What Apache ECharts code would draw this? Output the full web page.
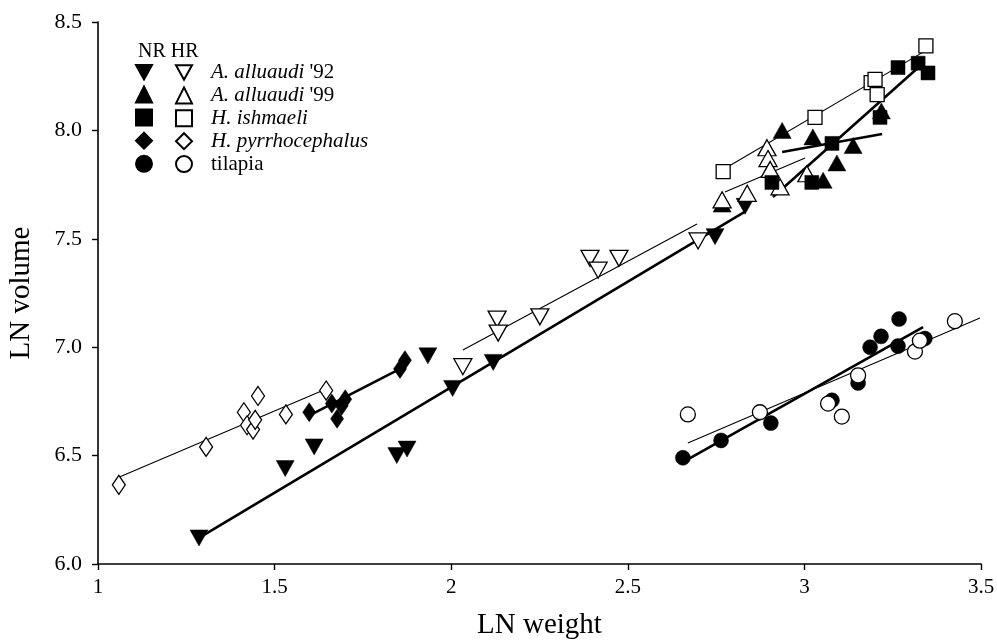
<!DOCTYPE html>
<html lang="en">
<head>
    <meta charset="UTF-8">
    <script src="https://cdn.jsdelivr.net/npm/echarts@6/dist/echarts.min.js"></script>
    <style>
        html, body { margin: 0; padding: 0; background: #fff; }
        #main { width: 997px; height: 641px; }
    </style>
</head>
<body>
    <div id="main"></div>
</body>
<script>
    // data: [LN weight, LN volume]
    var nr92 = [[1.286,6.12],[1.530,6.44],[1.612,6.54],[1.846,6.50],[1.875,6.53],[1.934,6.96],[2.004,6.81],[2.119,6.93],[2.747,7.51],[2.832,7.65]];
    var hr92 = [[2.033,6.91],[2.130,7.13],[2.133,7.065],[2.251,7.14],[2.393,7.41],[2.416,7.355],[2.475,7.41],[2.699,7.49]];
    var nr99 = [[2.767,7.66],[2.937,8.00],[3.024,7.97],[3.053,7.77],[3.092,7.85],[3.138,7.93],[3.218,8.09]];
    var hr99 = [[2.767,7.68],[2.838,7.71],[2.894,7.92],[2.897,7.87],[2.903,7.82],[2.931,7.74],[3.007,7.80]];
    var nrIsh = [[2.908,7.76],[3.021,7.76],[3.078,7.94],[3.214,8.06],[3.265,8.29],[3.322,8.31],[3.350,8.265]];
    var hrIsh = [[2.770,7.81],[3.030,8.06],[3.189,8.22],[3.200,8.235],[3.206,8.165],[3.344,8.39]];
    var nrPyr = [[1.598,6.70],[1.662,6.74],[1.677,6.67],[1.690,6.73],[1.700,6.76],[1.855,6.90],[1.869,6.94]];
    var hrPyr = [[1.059,6.365],[1.306,6.54],[1.413,6.70],[1.422,6.64],[1.439,6.62],[1.445,6.665],[1.453,6.775],[1.532,6.69],[1.646,6.80]];
    var nrTil = [[2.656,6.49],[2.764,6.57],[2.905,6.65],[3.078,6.755],[3.152,6.835],[3.186,7.00],[3.217,7.05],[3.265,7.005],[3.268,7.13],[3.341,7.04]];
    var hrTil = [[2.670,6.69],[2.874,6.70],[3.067,6.74],[3.106,6.68],[3.152,6.87],[3.313,6.98],[3.327,7.03],[3.426,7.12]];

    // regression line end points
    var fitNr92 = [[1.286,6.12],[2.832,7.625]];
    var fitHr92 = [[2.033,6.987],[2.696,7.568]];
    var fitNr99 = [[2.937,7.90],[3.220,7.983]];
    var fitHr99 = [[2.775,7.716],[3.002,7.873]];
    var fitNrIsh = [[2.911,7.693],[3.336,8.31]];
    var fitHrIsh = [[2.770,7.82],[3.335,8.36]];
    var fitNrPyr = [[1.592,6.68],[1.855,6.90]];
    var fitHrPyr = [[1.059,6.40],[1.646,6.807]];
    var fitNrTil = [[2.656,6.47],[3.336,7.093]];
    var fitHrTil = [[2.670,6.558],[3.497,7.135]];

    var groups = ["A. alluaudi '92", "A. alluaudi '99", "H. ishmaeli", "H. pyrrhocephalus", "tilapia"];
    var xTicks = ['1', '1.5', '2', '2.5', '3', '3.5'];

    var downTri = 'path://M0,0L20,0L10,18Z';
    var font = 'Liberation Serif';

    function pts(name, data, symbol, size, filled) {
        return {
            name: name,
            type: 'scatter',
            data: data,
            symbol: symbol,
            symbolSize: size,
            z: 5,
            itemStyle: filled
                ? { color: '#000', borderColor: '#000', borderWidth: 0.5, opacity: 1 }
                : { color: '#fff', borderColor: '#000', borderWidth: 1.3, opacity: 1 }
        };
    }
    function fit(data, thick) {
        return {
            type: 'line',
            data: data,
            symbol: 'none',
            silent: true,
            z: 2,
            lineStyle: { color: '#000', width: thick ? 2.6 : 1.1 }
        };
    }

    var myChart = echarts.init(document.getElementById('main'));
    var option = {
        animation: false,
        backgroundColor: '#fff',
        textStyle: { fontFamily: font, color: '#000' },
        grid: { left: 98, right: 16, top: 22, bottom: 77, outerBoundsMode: 'none' },
        title: {
            text: 'NR HR',
            left: 133, top: 37,
            textStyle: { fontFamily: font, fontSize: 20, fontWeight: 'normal', color: '#000' }
        },
        legend: [{
            orient: 'vertical',
            left: 135, top: 64, padding: 0,
            itemWidth: 16, itemHeight: 16, itemGap: 5.1,
            data: groups.map(function (g) { return g + ' NR'; }),
            formatter: function () { return ''; },
            textStyle: { fontSize: 10, lineHeight: 10 },
            selectedMode: false
        }, {
            orient: 'vertical',
            left: 175, top: 62, padding: 0,
            itemWidth: 16, itemHeight: 16, itemGap: 1.9,
            data: groups.map(function (g) { return g + ' HR'; }),
            selectedMode: false,
            formatter: function (n) {
                var g = n.replace(' HR', '');
                if (g === 'tilapia') return 'tilapia';
                var m = g.match(/^(.*?)( '\d+)?$/);
                return '{i|' + m[1] + '}' + (m[2] || '');
            },
            textStyle: {
                fontFamily: font, fontSize: 21, lineHeight: 20, color: '#000', padding: [0, 0, 0, 14],
                rich: { i: { fontFamily: font, fontSize: 21, lineHeight: 20, fontStyle: 'italic', color: '#000' } }
            }
        }],
        xAxis: {
            type: 'value',
            min: 1, max: 3.5, interval: 0.5,
            name: 'LN weight',
            nameLocation: 'middle',
            nameGap: 47,
            nameTextStyle: { fontFamily: font, fontSize: 29, color: '#000' },
            axisLine: { show: true, onZero: false, lineStyle: { color: '#000', width: 1.6 } },
            axisTick: { show: true, length: 6, lineStyle: { color: '#000', width: 1.4 } },
            axisLabel: {
                fontFamily: font, fontSize: 21, color: '#000', margin: 13,
                formatter: function (v) { return xTicks[Math.round((v - 1) / 0.5)]; }
            },
            splitLine: { show: false }
        },
        yAxis: {
            type: 'value',
            min: 6, max: 8.5, interval: 0.5,
            name: 'LN volume',
            nameLocation: 'middle',
            nameGap: 62,
            nameTextStyle: { fontFamily: font, fontSize: 29, color: '#000' },
            axisLine: { show: true, onZero: false, lineStyle: { color: '#000', width: 1.6 } },
            axisTick: { show: true, length: 6, lineStyle: { color: '#000', width: 1.4 } },
            axisLabel: {
                fontFamily: font, fontSize: 22, color: '#000', margin: 16,
                formatter: function (v) { return v.toFixed(1); }
            },
            splitLine: { show: false }
        },
        series: [
            fit(fitHr92, false), fit(fitNr92, true),
            fit(fitHr99, false), fit(fitNr99, true),
            fit(fitHrIsh, false), fit(fitNrIsh, true),
            fit(fitHrPyr, false), fit(fitNrPyr, true),
            fit(fitHrTil, false), fit(fitNrTil, true),
            pts(groups[0] + ' NR', nr92, downTri, [18, 16], true),
            pts(groups[0] + ' HR', hr92, downTri, [18, 16], false),
            pts(groups[1] + ' NR', nr99, 'triangle', [18, 16], true),
            pts(groups[1] + ' HR', hr99, 'triangle', [18, 16], false),
            pts(groups[2] + ' NR', nrIsh, 'rect', 14, true),
            pts(groups[2] + ' HR', hrIsh, 'rect', 14, false),
            pts(groups[3] + ' NR', nrPyr, 'diamond', [13, 19], true),
            pts(groups[3] + ' HR', hrPyr, 'diamond', [13, 19], false),
            pts(groups[4] + ' NR', nrTil, 'circle', 15, true),
            pts(groups[4] + ' HR', hrTil, 'circle', 15, false)
        ]
    };
    myChart.setOption(option);
    window.onresize = function () {
        myChart.resize();
    };
</script>
</html>
